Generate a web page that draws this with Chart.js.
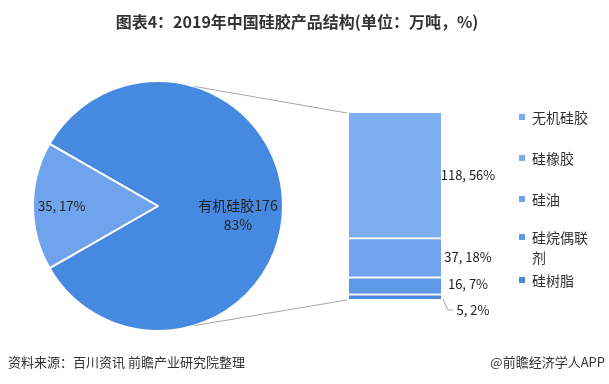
<!DOCTYPE html>
<html><head><meta charset="utf-8">
<script src="https://cdn.jsdelivr.net/npm/chart.js@4/dist/chart.umd.min.js"></script>
<style>
html,body{margin:0;padding:0;background:#fff;}
#wrap{position:relative;width:609px;height:384px;overflow:hidden;font-family:"Noto Sans CJK SC","Noto Sans",sans-serif;}
canvas{position:absolute;left:0;top:0;}
.t{position:absolute;white-space:nowrap;color:#333;}
#title{left:0;width:594px;top:9px;text-align:center;font-size:16px;font-weight:bold;color:#333;line-height:24px;}
#src{left:8px;top:353px;font-size:13px;line-height:18px;color:#333;}
#app{right:4px;top:353px;font-size:13px;line-height:18px;color:#333;}
.lg{position:absolute;left:519px;font-size:14px;line-height:20px;color:#333;}
.lg span.sq{position:absolute;left:0;top:7px;width:6px;height:6px;}
.lg span.tx{position:absolute;left:13px;top:0;width:60px;white-space:normal;word-break:break-all;}
</style></head><body>
<div id="wrap">
<canvas id="pie" width="609" height="384"></canvas>
<canvas id="bar" width="609" height="384"></canvas>
<div class="t" id="title"></div>
<div class="t" id="src"></div>
<div class="t" id="app"></div>
<div id="legend"></div>
</div>
<script>
// ---- data ----
const titleText = '图表4：2019年中国硅胶产品结构(单位：万吨，%)';
const sourceText = '资料来源：百川资讯 前瞻产业研究院整理';
const appText = '@前瞻经济学人APP';
const pieLabels = ['有机硅胶', '无机硅胶'];
const pieValues = [176, 35];
const piePercents = ['83%', '17%'];
const barLabels = ['硅树脂', '硅烷偶联剂', '硅油', '硅橡胶'];   // bottom to top
const barValues = [5, 16, 37, 118];
const barPercents = ['2%', '7%', '18%', '56%'];
const legendLabels = ['无机硅胶', '硅橡胶', '硅油', '硅烷偶联剂', '硅树脂'];

// ---- styles ----
const pieColors = ['#4689e0', '#6fa3eb'];
const barColors = ['#4a89dc', '#5f99e8', '#6fa4ec', '#7daeef'];
const legendColors = ['#7aacee', '#7aacee', '#6fa4ec', '#5f99e8', '#4a89dc'];
const legendTops = [107, 148, 189, 227, 270];

document.getElementById('title').textContent = titleText;
document.getElementById('src').textContent = sourceText;
document.getElementById('app').textContent = appText;
const lg = document.getElementById('legend');
legendLabels.forEach((l, i) => {
  const d = document.createElement('div');
  d.className = 'lg';
  d.style.top = legendTops[i] + 'px';
  d.innerHTML = '<span class="sq" style="background:' + legendColors[i] + '"></span><span class="tx"></span>';
  d.querySelector('.tx').textContent = l;
  lg.appendChild(d);
});

const FONT = '"Noto Sans CJK SC","Noto Sans",sans-serif';
const total = pieValues.reduce((a, b) => a + b, 0);
const smallSpan = pieValues[1] / total * 360;
const bigSpan = pieValues[0] / total * 360;
const rotation = 270 - smallSpan / 2 - bigSpan;

const pieLabelPlugin = {
  id: 'pieLabels',
  afterDraw(chart) {
    const ctx = chart.ctx;
    const arcs = chart.getDatasetMeta(0).data;
    ctx.save();
    ctx.fillStyle = '#222';
    ctx.textAlign = 'center';
    ctx.textBaseline = 'middle';
    // big slice
    let a = arcs[0];
    let mid = (a.startAngle + a.endAngle) / 2;
    let x = a.x + Math.cos(mid) * a.outerRadius * 0.64;
    let y = a.y + Math.sin(mid) * a.outerRadius * 0.64;
    ctx.font = '14px ' + FONT;
    ctx.fillText(pieLabels[0] + pieValues[0], x, y);
    ctx.fillText(piePercents[0], x, y + 19);
    // small slice
    a = arcs[1];
    mid = (a.startAngle + a.endAngle) / 2;
    x = a.x + Math.cos(mid) * a.outerRadius * 0.77;
    y = a.y + Math.sin(mid) * a.outerRadius * 0.77;
    ctx.font = '13px ' + FONT;
    ctx.fillText(pieValues[1] + ', ' + piePercents[1], x, y);
    ctx.restore();
  }
};

const pieChart = new Chart(document.getElementById('pie'), {
  type: 'pie',
  data: {
    labels: pieLabels,
    datasets: [{
      data: pieValues,
      backgroundColor: pieColors,
      borderColor: '#ffffff',
      borderWidth: 2,
      hoverOffset: 0,
      offset: 0
    }]
  },
  options: {
    responsive: false,
    animation: false,
    events: [],
    rotation: rotation,
    radius: 125,
    layout: { padding: { left: 34, right: 327, top: 82, bottom: 54 } },
    plugins: { legend: { display: false }, title: { display: false }, tooltip: { enabled: false } }
  },
  plugins: [pieLabelPlugin]
});

const barLabelPlugin = {
  id: 'barLabels',
  afterDraw(chart) {
    const ctx = chart.ctx;
    ctx.save();
    // connector lines from pie to bar
    const arc = pieChart.getDatasetMeta(0).data[0];
    const ca = chart.chartArea;
    const ang = 73 * Math.PI / 180;
    ctx.strokeStyle = '#a6a6a6';
    ctx.lineWidth = 1;
    ctx.beginPath();
    ctx.moveTo(arc.x + Math.cos(-ang) * arc.outerRadius, arc.y + Math.sin(-ang) * arc.outerRadius);
    ctx.lineTo(ca.left - 2, ca.top);
    ctx.moveTo(arc.x + Math.cos(ang) * arc.outerRadius, arc.y + Math.sin(ang) * arc.outerRadius);
    ctx.lineTo(ca.left - 2, ca.bottom + 1);
    ctx.stroke();

    ctx.font = '13px ' + FONT;
    ctx.fillStyle = '#222';
    ctx.textAlign = 'center';
    ctx.textBaseline = 'middle';
    chart.data.datasets.forEach((ds, i) => {
      const el = chart.getDatasetMeta(i).data[0];
      const top = Math.min(el.y, el.base), bot = Math.max(el.y, el.base);
      const right = el.x + el.width / 2;
      const cx = right + 27;
      const txt = barValues[i] + ', ' + barPercents[i];
      if (i === 0) {
        const ly = bot + 11;
        ctx.beginPath();
        ctx.moveTo(right + 2, bot);
        ctx.lineTo(right + 7, ly);
        ctx.lineTo(right + 12, ly);
        ctx.stroke();
        ctx.fillText(txt, cx + 5, ly);
      } else {
        ctx.fillText(txt, cx, (top + bot) / 2 - (i === 1 ? 1 : 0));
      }
    });
    ctx.restore();
  }
};

const barSum = barValues.reduce((a, b) => a + b, 0);
new Chart(document.getElementById('bar'), {
  type: 'bar',
  data: {
    labels: [''],
    datasets: barValues.map((v, i) => ({
      label: barLabels[i],
      data: [v],
      backgroundColor: barColors[i],
      borderColor: '#ffffff',
      borderWidth: i === barValues.length - 1 ? 0 : { top: 2, left: 0, right: 0, bottom: 0 },
      borderSkipped: false,
      categoryPercentage: 1,
      barPercentage: 1
    }))
  },
  options: {
    responsive: false,
    animation: false,
    events: [],
    layout: { padding: { left: 349, right: 168, top: 113, bottom: 85 } },
    scales: {
      x: { stacked: true, display: false },
      y: { stacked: true, display: false, min: 0, max: barSum }
    },
    plugins: { legend: { display: false }, title: { display: false }, tooltip: { enabled: false } }
  },
  plugins: [barLabelPlugin]
});
</script>
</body></html>
